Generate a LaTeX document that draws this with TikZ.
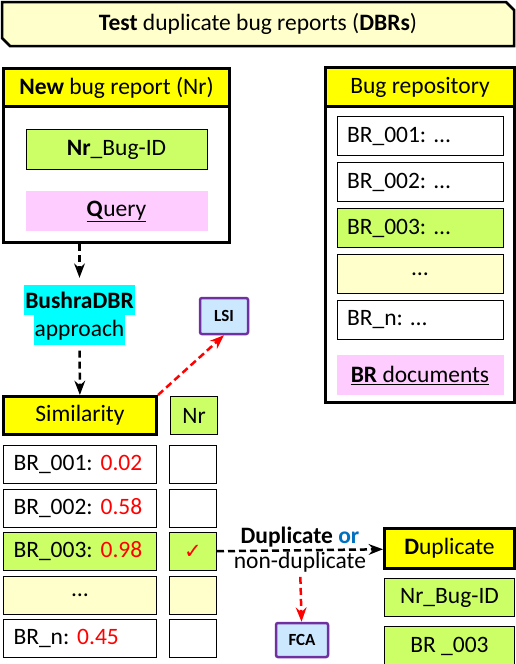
\documentclass[tikz,border=0pt]{standalone}
\usepackage{fontspec}
\setmainfont{Carlito}
\newfontfamily\symfont{DejaVu Sans}
\usetikzlibrary{arrows.meta, positioning}
\definecolor{hdryellow}{HTML}{FFFF00}
\definecolor{limegreen}{HTML}{CCFF66}
\definecolor{paleyellow}{HTML}{FFFFCC}
\definecolor{softpink}{HTML}{FFCCFF}
\definecolor{aquacyan}{HTML}{00FFFF}
\definecolor{toolblue}{HTML}{CCE8FF}
\definecolor{toolpurple}{HTML}{7030A0}
\definecolor{orblue}{HTML}{0070C0}

\begin{document}
\begin{tikzpicture}[x=1pt, y=-1pt, font=\fontsize{23.5}{27}\selectfont\frenchspacing, >=Stealth,
    frame/.style={draw, line width=3pt, inner sep=0pt},
    hdr/.style={draw, fill=hdryellow, line width=3pt, inner sep=0pt},
    cell/.style={draw, line width=1pt, inner sep=0pt, minimum height=38pt},
    leftcell/.style={cell, inner xsep=10pt, align=left},
    tool/.style={draw=toolpurple, fill=toolblue, line width=2.5pt, rounded corners=2pt,
        font=\fontsize{17}{20}\selectfont\bfseries, minimum width=48pt, minimum height=36pt},
    flow/.style={->, line width=2.5pt, dash pattern=on 7pt off 4pt},
    redflow/.style={->, red, line width=2.5pt, dash pattern=on 7pt off 4pt}]
    \useasboundingbox (0,0) rectangle (516,664);

    % title banner
    \draw[line width=2.5pt, fill=paleyellow] (2,2) -- (506,2) -- (514,10) -- (514,46) -- (10,46) -- (2,38) -- cycle;
    \node (title) at (258,24) {\textbf{Test} duplicate bug reports (\textbf{DBRs})};

    % new bug report
    \node[frame, anchor=north west, minimum width=226pt, minimum height=174pt] (nrframe) at (2,67) {};
    \node[hdr, anchor=north west, minimum width=226pt, minimum height=38pt] (nrhead) at (2,67) {\textbf{New} bug report (Nr)};
    \node[cell, fill=limegreen, minimum width=181pt, minimum height=40pt, below=21pt of nrhead] (nrid) {\textbf{Nr}\_Bug-ID};
    \node[fill=softpink, inner sep=0pt, minimum width=182pt, minimum height=40pt, below=21pt of nrid] (query) {\underline{\textbf{Q}uery}};

    % bug repository
    \node[frame, anchor=north west, minimum width=189pt, minimum height=335pt] (repo) at (324,66) {};
    \node[hdr, anchor=north west, minimum width=189pt, minimum height=39pt] (repohead) at (324,66) {Bug repository};
    \node[leftcell, text width=146pt, minimum height=39pt, below=8pt of repohead] (rb1) {BR\_001: …};
    \node[leftcell, text width=146pt, minimum height=39pt, below=6pt of rb1] (rb2) {BR\_002: …};
    \node[leftcell, fill=limegreen, text width=146pt, minimum height=39pt, below=6pt of rb2] (rb3) {BR\_003: …};
    \node[cell, fill=paleyellow, minimum width=166pt, minimum height=39pt, below=6pt of rb3] (rb4) {…};
    \node[leftcell, text width=146pt, minimum height=39pt, below=6pt of rb4] (rb5) {BR\_n: …};
    \node[fill=softpink, inner sep=0pt, minimum width=167pt, minimum height=40pt, below=15pt of rb5] (brdocs) {\underline{\textbf{BR} documents}};

    % approach
    \node[fill=aquacyan, inner xsep=1pt, inner ysep=0pt, minimum height=30pt] (bushra) at (79.5,300) {\textbf{BushraDBR}};
    \node[fill=aquacyan, inner xsep=1pt, inner ysep=0pt, minimum height=30pt, below=0pt of bushra] (approach) {approach};
    \draw[flow, shorten >=7pt] (nrframe.south -| bushra) -- (bushra);

    % similarity table
    \node[hdr, anchor=north west, minimum width=153pt, minimum height=38pt] (simhead) at (2,395) {Similarity};
    \node[cell, fill=limegreen, minimum width=47pt, right=12pt of simhead] (nrhd) {Nr};
    \node[leftcell, text width=133pt, below=9pt of simhead] (s1) {BR\_001: \textcolor{red}{0.02}};
    \node[leftcell, text width=133pt, below=4.5pt of s1] (s2) {BR\_002: \textcolor{red}{0.58}};
    \node[leftcell, fill=limegreen, text width=133pt, below=4.5pt of s2] (s3) {BR\_003: \textcolor{red}{0.98}};
    \node[cell, fill=paleyellow, minimum width=153pt, below=4.5pt of s3] (s4) {…};
    \node[leftcell, text width=133pt, below=4.5pt of s4] (s5) {BR\_n: \textcolor{red}{0.45}};
    \node[cell, minimum width=47pt, right=12pt of s1] (c1) {};
    \node[cell, minimum width=47pt, right=12pt of s2] (c2) {};
    \node[cell, fill=limegreen, minimum width=47pt, right=12pt of s3] (c3) {\symfont\fontsize{21}{24}\selectfont\textcolor{red}{✓}};
    \node[cell, fill=paleyellow, minimum width=47pt, right=12pt of s4] (c4) {};
    \node[cell, minimum width=47pt, right=12pt of s5] (c5) {};
    \draw[flow, shorten <=5pt] (approach) -- (simhead);

    % LSI
    \node[tool] (lsi) at (224,316) {LSI};
    \draw[redflow] (simhead.north east) -- (lsi.south);

    % duplicate result
    \node[hdr, anchor=north west, minimum width=130pt, minimum height=40pt] (duphead) at (383,527) {\textbf{D}uplicate};
    \node[cell, fill=limegreen, minimum width=130pt, below=8pt of duphead] (dupid) {Nr\_Bug-ID};
    \node[cell, fill=limegreen, minimum width=130pt, minimum height=39pt, below=9pt of dupid] (dupbr) {BR \_003};
    \draw[flow] (c3) -- node[above, inner sep=2pt] (dupor) {\textbf{Duplicate \textcolor{orblue}{or}}}
        node[below, inner sep=1pt] (nondup) {non-duplicate} (duphead);

    % FCA
    \node[tool, minimum width=52pt, minimum height=34pt] (fca) at (302,640) {FCA};
    \draw[redflow, shorten <=2pt] (nondup) -- (fca);
\end{tikzpicture}
\end{document}
